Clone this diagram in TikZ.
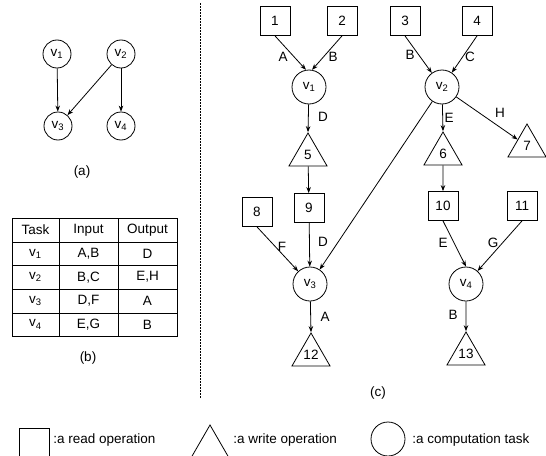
\documentclass[tikz,border=0pt]{standalone}
\usepackage{fontspec}
\setmainfont{Liberation Sans}
\usetikzlibrary{shapes.geometric,arrows.meta}

\newcommand{\tk}[1]{v\textsubscript{#1}}

\tikzset{
  rd/.style={draw,minimum width=30pt,minimum height=29pt,inner sep=0pt},
  wrt/.style={draw,regular polygon,regular polygon sides=3,minimum size=44pt,inner sep=0pt},
  task/.style={draw,circle,minimum size=34pt,inner sep=0pt},
  smalltask/.style={task,minimum size=28pt},
  lbl/.style={inner sep=0pt},
}

\begin{document}
\begin{tikzpicture}[x=1pt,y=-1pt,line width=.8pt,
    font=\fontsize{13.5}{16}\selectfont,
    >={Stealth[length=6pt,width=4.5pt]}]
\clip (0,0) rectangle (546,455);

\node[smalltask] (a1) at (57,54) {\tk1};
\node[smalltask] (a2) at (121,54) {\tk2};
\node[smalltask] (a3) at (58,126) {\tk3};
\node[smalltask] (a4) at (121,126) {\tk4};
\draw[->] (a1) -- (a3);
\draw[->] (a2) -- (a3);
\draw[->] (a2) -- (a4);
\node[lbl] (capa) at (82,172) {(a)};

\draw (12,218) rectangle (177,336);
\foreach \y in {242,265,289,313} \draw (12,\y) -- (177,\y);
\foreach \x in {59,118} \draw (\x,218) -- (\x,336);
\node[lbl] (th1) at (35.5,230) {Task};
\node[lbl] (th2) at (88.5,230) {Input};
\node[lbl] (th3) at (147.5,230) {Output};
\foreach \i/\inp/\out [evaluate=\i as \yy using 230+23.6*\i] in
    {1/{A,B}/D, 2/{B,C}/{E,H}, 3/{D,F}/A, 4/{E,G}/B} {
  \node[lbl] (tt\i) at (35.5,\yy) {\tk{\i}};
  \node[lbl] (ti\i) at (88.5,\yy) {\inp};
  \node[lbl] (to\i) at (147.5,\yy) {\out};
}
\node[lbl] (capb) at (88,358) {(b)};

\draw[line width=.7pt,dash pattern=on 2pt off 1pt] (200,3) -- (200,398);

\node[rd] (r1) at (275,21) {1};
\node[rd] (r2) at (342,21) {2};
\node[rd] (r3) at (405,21) {3};
\node[rd] (r4) at (477,21) {4};
\node[task] (v1) at (309,87) {\tk1};
\node[task] (v2) at (442,87) {\tk2};
\node[wrt] (w5) at (308,155) {5};
\node[wrt] (w6) at (443,154) {6};
\node[wrt] (w7) at (527,146) {7};
\node[rd] (r8) at (257,212) {8};
\node[rd] (r9) at (309,208) {9};
\node[rd] (r10) at (443,206) {10};
\node[rd] (r11) at (522,206) {11};
\node[task] (v3) at (310,284) {\tk3};
\node[task] (v4) at (466,284) {\tk4};
\node[wrt] (w12) at (311,355) {12};
\node[wrt] (w13) at (466,354) {13};

\draw[->] (r1.south) -- (v1.100);
\draw[->] (r2.south) -- (v1.80);
\draw[->] (r3.south) -- (v2);
\draw[->] (r4.south) -- (v2);
\draw[->] (v1) -- (w5.north);
\draw[->] (v2) -- (w6.north);
\draw[->] (v2) -- (w7);
\draw[->] (v2) -- (v3);
\draw[->] (w5) -- (r9);
\draw[->] (w6) -- (r10);
\draw[->] (r8.south) -- (v3);
\draw[->] (r9) -- (v3);
\draw[->] (r10.south) -- (v4.north);
\draw[->] (r11.south) -- (v4);
\draw[->] (v3) -- (w12.north);
\draw[->] (v4) -- (w13.north);

\node[lbl] (eA1) at (283,57) {A};
\node[lbl] (eB1) at (333,57) {B};
\node[lbl] (eB2) at (410,55) {B};
\node[lbl] (eC) at (470,57) {C};
\node[lbl] (eD1) at (323,117) {D};
\node[lbl] (eE1) at (449,118) {E};
\node[lbl] (eH) at (500,113) {H};
\node[lbl] (eF) at (282,247) {F};
\node[lbl] (eD2) at (323,242) {D};
\node[lbl] (eA2) at (325,317) {A};
\node[lbl] (eE2) at (443,243) {E};
\node[lbl] (eG) at (493,243) {G};
\node[lbl] (eB3) at (453,315) {B};
\node[lbl] (capc) at (378,393) {(c)};

\node[rd] (kr) at (34,443) {};
\node[lbl,anchor=west] (kr-t) at (53,440) {:a read operation};
\node[wrt] (kw) at (210,447) {};
\node[lbl,anchor=west] (kw-t) at (233,440) {:a write operation};
\node[task] (kt) at (388,439) {};
\node[lbl,anchor=west] (kt-t) at (412,440) {:a computation task};
\end{tikzpicture}
\end{document}
